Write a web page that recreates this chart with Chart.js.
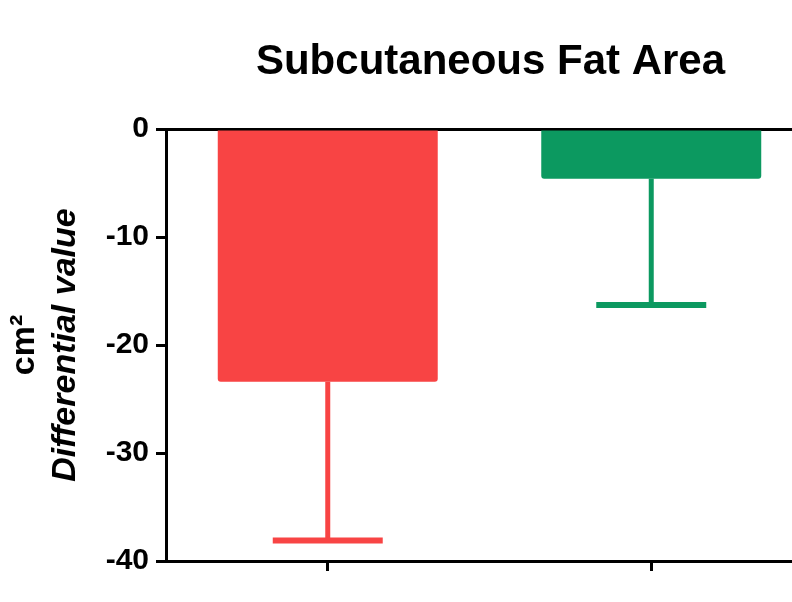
<!DOCTYPE html>
<html>
<head>
<meta charset="utf-8">
<script src="https://cdn.jsdelivr.net/npm/chart.js@4"></script>
<style>
  html, body { margin: 0; padding: 0; background: #fff; }
  #wrap { width: 792px; height: 602px; overflow: hidden; }
</style>
</head>
<body>
<div id="wrap"><canvas id="fat" width="830" height="602"></canvas></div>
<script>
const chartTitle = 'Subcutaneous Fat Area';
const unitLabel = 'cm²';
const axisLabel = 'Differential value';
const categories = ['Group 1', 'Group 2'];
const meanValues = [-23.4, -4.6];
const errorEnds = [-38.1, -16.3];
const barColors = ['#F84444', '#0C9960'];
const yTicks = [0, -10, -20, -30, -40];

const font = 'Liberation Sans';

// error bars hanging below each bar
const errorBars = {
    id: 'errorBars',
    afterDatasetsDraw(chart) {
        let ctx = chart.ctx,
            y = chart.scales.y,
            meta = chart.getDatasetMeta(0);
        ctx.save();
        meta.data.forEach((bar, i) => {
            let top = y.getPixelForValue(meanValues[i]),
                end = y.getPixelForValue(errorEnds[i]),
                half = bar.width / 4;
            ctx.strokeStyle = barColors[i];
            ctx.lineWidth = 5;
            ctx.beginPath();
            ctx.moveTo(bar.x, top);
            ctx.lineTo(bar.x, end);
            ctx.stroke();
            ctx.lineWidth = 6;
            ctx.beginPath();
            ctx.moveTo(bar.x - half, end);
            ctx.lineTo(bar.x + half, end);
            ctx.stroke();
        });
        ctx.restore();
    }
};

// title and two-line y axis label
const labels = {
    id: 'labels',
    afterDraw(chart) {
        let ctx = chart.ctx,
            area = chart.chartArea,
            midY = (area.top + area.bottom) / 2;
        ctx.save();
        ctx.fillStyle = '#000';
        ctx.textAlign = 'center';
        ctx.textBaseline = 'alphabetic';
        ctx.font = 'bold 42px "' + font + '"';
        ctx.fillText(chartTitle, (area.left + area.right) / 2 + 1, 74);

        ctx.translate(0, midY);
        ctx.rotate(-Math.PI / 2);
        ctx.textBaseline = 'middle';
        ctx.font = 'bold 34px "' + font + '"';
        ctx.fillText(unitLabel, 0, 25);
        ctx.font = 'italic bold 34px "' + font + '"';
        ctx.fillText(axisLabel, 0, 66);
        ctx.restore();
    }
};

new Chart(document.getElementById('fat'), {
    type: 'bar',
    data: {
        labels: categories,
        datasets: [{
            data: meanValues,
            backgroundColor: barColors,
            borderRadius: 3,
            borderSkipped: 'start',
            barPercentage: 0.68,
            categoryPercentage: 1
        }]
    },
    options: {
        responsive: false,
        animation: false,
        events: [],
        layout: { padding: { top: 129, right: 17, left: 0, bottom: 0 } },
        plugins: {
            legend: { display: false },
            tooltip: { enabled: false }
        },
        scales: {
            x: {
                z: 1,
                ticks: { display: false },
                grid: {
                    offset: false,
                    drawOnChartArea: false,
                    drawTicks: true,
                    tickLength: 10,
                    tickColor: '#000',
                    tickWidth: 3
                },
                border: { display: true, color: '#000', width: 3 },
                afterFit: scale => { scale.height = 41; }
            },
            y: {
                z: 1,
                min: -40,
                max: 0,
                afterBuildTicks: scale => {
                    scale.ticks = yTicks.map(v => ({ value: v }));
                },
                ticks: {
                    color: '#000',
                    padding: 7,
                    font: { family: font, size: 30, weight: 'bold' }
                },
                grid: {
                    color: c => c.tick && c.tick.value === 0 ? '#000' : 'rgba(0,0,0,0)',
                    lineWidth: 3,
                    tickColor: '#000',
                    tickWidth: 3,
                    tickLength: 10
                },
                border: { display: true, color: '#000', width: 3 },
                afterFit: scale => { scale.width = 166; }
            }
        }
    },
    plugins: [errorBars, labels]
});
</script>
</body>
</html>
